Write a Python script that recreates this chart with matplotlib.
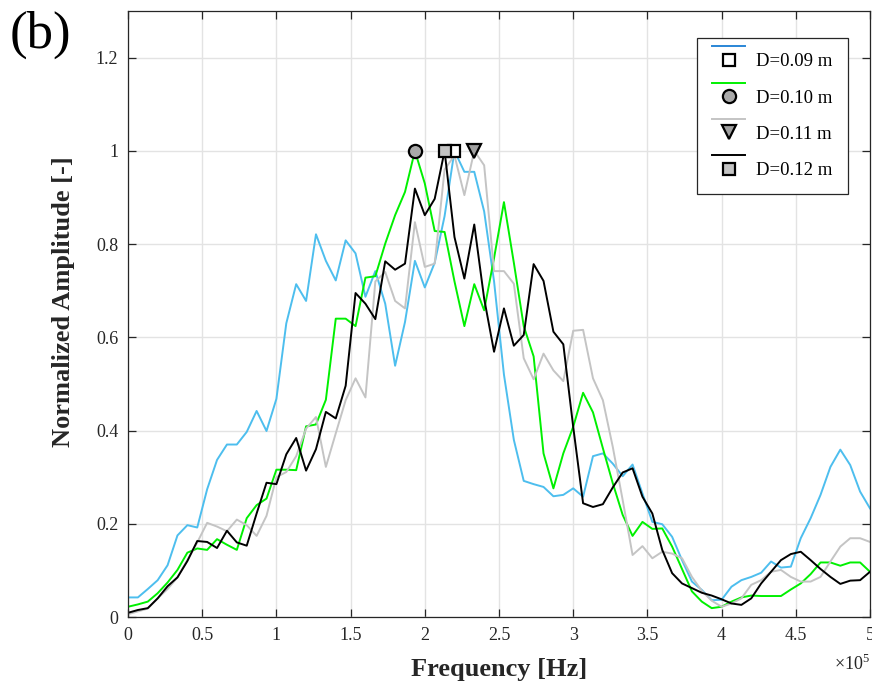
import numpy as np
import matplotlib
matplotlib.use("Agg")
import matplotlib.pyplot as plt
from matplotlib.lines import Line2D
from matplotlib.legend_handler import HandlerBase

plt.rcParams["font.family"] = "Liberation Serif"
plt.rcParams["mathtext.fontset"] = "custom"
plt.rcParams["mathtext.rm"] = "Liberation Serif"

# frequency bins (x 10^5 Hz), uniform spacing of 1/15
freq = np.arange(76) / 15.0

amp_009 = [0.042, 0.042, 0.060, 0.079, 0.111, 0.175, 0.197, 0.192, 0.274, 0.337,
           0.370, 0.370, 0.397, 0.442, 0.399, 0.468, 0.630, 0.714, 0.678, 0.821,
           0.764, 0.722, 0.808, 0.780, 0.687, 0.742, 0.672, 0.539, 0.633, 0.764,
           0.707, 0.760, 0.860, 1.000, 0.955, 0.955, 0.870, 0.720, 0.520, 0.380,
           0.292, 0.285, 0.279, 0.259, 0.262, 0.276, 0.258, 0.345, 0.351, 0.329,
           0.302, 0.327, 0.265, 0.204, 0.199, 0.172, 0.122, 0.076, 0.058, 0.036,
           0.037, 0.065, 0.079, 0.086, 0.095, 0.119, 0.106, 0.108, 0.169, 0.212,
           0.262, 0.322, 0.359, 0.326, 0.269, 0.233]

amp_010 = [0.022, 0.027, 0.033, 0.051, 0.074, 0.101, 0.138, 0.147, 0.144, 0.167,
           0.155, 0.144, 0.212, 0.240, 0.254, 0.316, 0.316, 0.315, 0.409, 0.413,
           0.466, 0.640, 0.640, 0.624, 0.728, 0.731, 0.801, 0.862, 0.912, 1.000,
           0.930, 0.828, 0.826, 0.720, 0.624, 0.714, 0.658, 0.770, 0.890, 0.760,
           0.624, 0.559, 0.351, 0.276, 0.351, 0.408, 0.481, 0.439, 0.362, 0.287,
           0.219, 0.174, 0.204, 0.189, 0.190, 0.151, 0.103, 0.055, 0.033, 0.019,
           0.022, 0.033, 0.042, 0.046, 0.045, 0.045, 0.045, 0.059, 0.072, 0.092,
           0.117, 0.117, 0.110, 0.117, 0.117, 0.097]

amp_011 = [0.006, 0.012, 0.018, 0.040, 0.060, 0.085, 0.122, 0.160, 0.202, 0.194,
           0.184, 0.209, 0.197, 0.174, 0.217, 0.300, 0.311, 0.345, 0.404, 0.429,
           0.322, 0.394, 0.465, 0.512, 0.471, 0.720, 0.740, 0.678, 0.662, 0.847,
           0.751, 0.758, 0.960, 0.990, 0.905, 1.000, 0.969, 0.742, 0.742, 0.715,
           0.555, 0.510, 0.565, 0.529, 0.506, 0.614, 0.616, 0.512, 0.465, 0.365,
           0.251, 0.133, 0.152, 0.126, 0.140, 0.136, 0.126, 0.086, 0.056, 0.035,
           0.022, 0.029, 0.040, 0.069, 0.079, 0.097, 0.101, 0.086, 0.076, 0.076,
           0.086, 0.119, 0.151, 0.169, 0.169, 0.161]

amp_012 = [0.009, 0.015, 0.019, 0.040, 0.066, 0.085, 0.120, 0.163, 0.161, 0.148,
           0.185, 0.160, 0.153, 0.222, 0.288, 0.285, 0.349, 0.384, 0.314, 0.360,
           0.440, 0.426, 0.496, 0.695, 0.672, 0.639, 0.763, 0.745, 0.758, 0.919,
           0.862, 0.897, 1.000, 0.815, 0.726, 0.842, 0.683, 0.569, 0.662, 0.582,
           0.605, 0.757, 0.721, 0.612, 0.585, 0.408, 0.244, 0.236, 0.242, 0.278,
           0.310, 0.319, 0.258, 0.222, 0.144, 0.094, 0.072, 0.062, 0.052, 0.046,
           0.038, 0.029, 0.026, 0.040, 0.072, 0.097, 0.122, 0.135, 0.140, 0.122,
           0.103, 0.086, 0.071, 0.078, 0.079, 0.097]

labels = ["D=0.09 m", "D=0.10 m", "D=0.11 m", "D=0.12 m"]
line_colors = ["#4dbeee", "#00f000", "#c4c4c4", "#000000"]
legend_colors = ["#2a86d6", "#00f000", "#c4c4c4", "#000000"]
markers = ["s", "o", "v", "s"]
marker_faces = ["#ffffff", "#a9a9a9", "#a0a0a0", "#c4c4c4"]
marker_sizes = [8, 9.5, 10, 8]


class StackedHandler(HandlerBase):
    # MATLAB style legend entry: line sample on top, marker below it
    def create_artists(self, legend, orig_handle, xdescent, ydescent,
                       width, height, fontsize, trans):
        line, mark = orig_handle
        yc = height / 2 - ydescent
        ln = Line2D([-xdescent, -xdescent + width], [yc + 0.72 * fontsize] * 2,
                    color=line.get_color(), lw=line.get_linewidth())
        mk = Line2D([-xdescent + width / 2], [yc], linestyle="none",
                    marker=mark.get_marker(), markersize=mark.get_markersize(),
                    markerfacecolor=mark.get_markerfacecolor(),
                    markeredgecolor="black",
                    markeredgewidth=mark.get_markeredgewidth())
        ln.set_transform(trans)
        mk.set_transform(trans)
        return [ln, mk]


fig = plt.figure(figsize=(8.72, 6.95), dpi=100)
ax = fig.add_axes([128 / 872, 78 / 695, 742 / 872, 606 / 695])

series = [amp_009, amp_010, amp_011, amp_012]
handles = []
for y, c, lc, m, mf, ms in zip(series, line_colors, legend_colors,
                               markers, marker_faces, marker_sizes):
    y = np.array(y)
    ax.plot(freq, y, color=c, lw=1.4, zorder=2)
    handles.append((Line2D([], [], color=lc, lw=1.4),
                    Line2D([], [], marker=m, markersize=ms,
                           markerfacecolor=mf, markeredgewidth=1.6)))

# peak markers, drawn after all lines so they sit on top
for y, m, mf, ms in zip(series, markers, marker_faces, marker_sizes):
    k = int(np.argmax(y))
    ax.plot(freq[k], y[k], linestyle="none", marker=m, markersize=ms,
            markerfacecolor=mf, markeredgecolor="black",
            markeredgewidth=1.6, zorder=5, clip_on=False)

ax.set_xlim(0, 5)
ax.set_ylim(0, 1.3)
ax.set_xticks(np.arange(0, 5.01, 0.5))
ax.set_yticks(np.arange(0, 1.21, 0.2))
ax.set_xticklabels(["%g" % v for v in np.arange(0, 5.01, 0.5)])
ax.set_yticklabels(["%g" % round(v, 1) for v in np.arange(0, 1.21, 0.2)])

ax.grid(True, color="#e3e3e3", lw=1.0)
ax.set_axisbelow(True)
ax.tick_params(direction="in", length=6, width=0.9, colors="#262626",
               labelsize=13, top=True, right=True, pad=7)
for s in ax.spines.values():
    s.set_color("#262626")
    s.set_linewidth(0.9)

ax.set_xlabel("Frequency [Hz]", fontsize=19, fontweight="bold", color="#262626")
ax.set_ylabel("Normalized Amplitude [-]", fontsize=19, fontweight="bold",
              color="#262626")
ax.xaxis.set_label_coords(0.5, -0.068)
ax.yaxis.set_label_coords(-0.072, 0.52)

fig.text(834 / 872, 1 - 664 / 695, "\u00d710$^{5}$", fontsize=13,
         color="#262626", ha="left", va="center")
fig.text(10 / 872, 1 - 35 / 695, "(b)", fontsize=38, ha="left", va="center")

leg = ax.legend(handles, labels, handler_map={tuple: StackedHandler()},
                loc="upper left", bbox_to_anchor=(0.767, 0.955),
                borderaxespad=0, fontsize=13.5, handlelength=1.75,
                handletextpad=0.6, labelspacing=1.02, borderpad=0.8,
                fancybox=False, framealpha=1, edgecolor="#262626")
leg.get_frame().set_linewidth(0.9)

fig.savefig("out.png", dpi=100)
